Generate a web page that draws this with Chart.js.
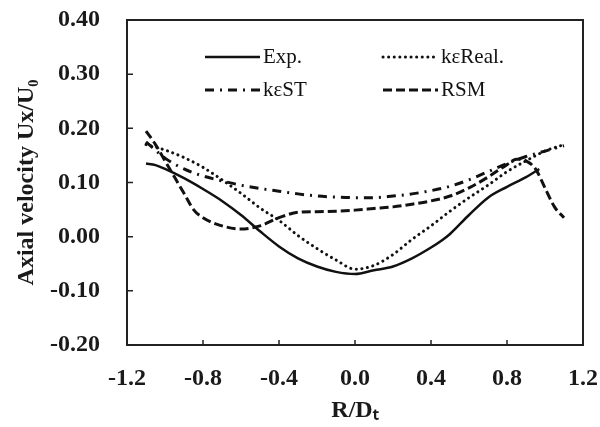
<!DOCTYPE html>
<html>
<head>
<meta charset="utf-8">
<script src="https://cdn.jsdelivr.net/npm/chart.js@4/dist/chart.umd.min.js"></script>
<style>
  html, body { margin: 0; padding: 0; background: #fff; }
  #wrap { width: 600px; height: 427px; }
</style>
</head>
<body>
<div id="wrap"><canvas id="chart"></canvas></div>
<script>
// Data
const expX = [-1.1, -1.05, -1.0, -0.9, -0.8, -0.7, -0.6, -0.5, -0.4, -0.3, -0.2, -0.1, 0.0, 0.1, 0.2, 0.3, 0.4, 0.46, 0.5, 0.6, 0.7, 0.8, 0.9, 0.97];
const expY = [0.135, 0.132, 0.125, 0.108, 0.088, 0.066, 0.040, 0.010, -0.018, -0.040, -0.055, -0.065, -0.069, -0.062, -0.055, -0.040, -0.020, -0.006, 0.005, 0.040, 0.072, 0.092, 0.110, 0.125];

const realX = [-1.1, -1.0, -0.9, -0.8, -0.7, -0.6, -0.5, -0.4, -0.3, -0.2, -0.1, 0.0, 0.1, 0.2, 0.3, 0.4, 0.5, 0.6, 0.7, 0.8, 0.9, 1.0, 1.1];
const realY = [0.170, 0.160, 0.146, 0.128, 0.105, 0.080, 0.053, 0.030, 0.002, -0.022, -0.043, -0.060, -0.053, -0.033, -0.005, 0.020, 0.047, 0.072, 0.095, 0.120, 0.140, 0.158, 0.170];

const stX = [-1.1, -1.0, -0.9, -0.8, -0.7, -0.6, -0.5, -0.4, -0.3, -0.2, -0.1, 0.0, 0.1, 0.2, 0.3, 0.4, 0.5, 0.6, 0.7, 0.8, 0.9, 1.0, 1.1];
const stY = [0.175, 0.145, 0.125, 0.112, 0.103, 0.095, 0.089, 0.084, 0.079, 0.075, 0.073, 0.072, 0.072, 0.075, 0.079, 0.085, 0.093, 0.105, 0.120, 0.135, 0.148, 0.158, 0.168];

const rsmX = [-1.1, -1.05, -1.0, -0.95, -0.9, -0.85, -0.8, -0.7, -0.6, -0.5, -0.4, -0.3, -0.2, -0.1, 0.0, 0.1, 0.2, 0.3, 0.4, 0.5, 0.6, 0.7, 0.8, 0.85, 0.9, 0.95, 1.0, 1.05, 1.1];
const rsmY = [0.195, 0.170, 0.140, 0.110, 0.080, 0.050, 0.035, 0.020, 0.014, 0.020, 0.035, 0.045, 0.046, 0.047, 0.049, 0.052, 0.055, 0.060, 0.066, 0.075, 0.090, 0.110, 0.133, 0.143, 0.140, 0.125, 0.090, 0.055, 0.035];

const xTicks = [-1.2, -0.8, -0.4, 0.0, 0.4, 0.8, 1.2];
const yTicks = [-0.20, -0.10, 0.00, 0.10, 0.20, 0.30, 0.40];

function pts(xs, ys) {
    return xs.map((x, i) => ({ x: x, y: ys[i] }));
}

// inward ticks, plot frame and the two-column legend
const framePlugin = {
    id: 'frame',
    afterDatasetsDraw(chart) {
        const ctx = chart.ctx;
        const a = chart.chartArea;
        const xs = chart.scales.x;
        const ys = chart.scales.y;
        ctx.save();
        ctx.strokeStyle = '#222';
        ctx.lineWidth = 2;
        ctx.setLineDash([]);
        ctx.strokeRect(a.left, a.top, a.right - a.left, a.bottom - a.top);
        ctx.lineWidth = 1.5;
        ctx.beginPath();
        yTicks.forEach(v => {
            const p = ys.getPixelForValue(v);
            ctx.moveTo(a.left, p);
            ctx.lineTo(a.left + 6, p);
        });
        xTicks.slice(1, -1).forEach(v => {
            const p = xs.getPixelForValue(v);
            ctx.moveTo(p, a.bottom);
            ctx.lineTo(p, a.bottom - 5);
        });
        ctx.stroke();

        // legend
        const slots = [
            { x: 205, y: 57 }, { x: 383, y: 57 },
            { x: 205, y: 90 }, { x: 383, y: 90 }
        ];
        ctx.font = '21px "Liberation Serif", serif';
        ctx.fillStyle = '#111';
        ctx.textBaseline = 'middle';
        chart.data.datasets.forEach((ds, i) => {
            const s = slots[i];
            ctx.strokeStyle = ds.borderColor;
            ctx.lineWidth = ds.borderWidth;
            ctx.lineCap = ds.borderCapStyle || 'butt';
            ctx.setLineDash(ds.borderDash || []);
            ctx.beginPath();
            ctx.moveTo(s.x, s.y);
            ctx.lineTo(s.x + 55, s.y);
            ctx.stroke();
            ctx.fillText(ds.label, s.x + 58, s.y);
        });
        ctx.restore();
    }
};

function createChart() {
    const ctx = document.getElementById('chart').getContext('2d');
    new Chart(ctx, {
        type: 'line',
        data: {
            datasets: [
                { label: 'Exp.', data: pts(expX, expY), borderColor: '#111', borderWidth: 2.5, borderDash: [] },
                { label: 'kεReal.', data: pts(realX, realY), borderColor: '#111', borderWidth: 3, borderDash: [0.1, 5.5], borderCapStyle: 'round' },
                { label: 'kεST', data: pts(stX, stY), borderColor: '#111', borderWidth: 3, borderDash: [9, 6, 2, 6] },
                { label: 'RSM', data: pts(rsmX, rsmY), borderColor: '#111', borderWidth: 3, borderDash: [9, 4] }
            ]
        },
        options: {
            responsive: true,
            maintainAspectRatio: false,
            animation: false,
            elements: {
                point: { radius: 0 },
                line: { cubicInterpolationMode: 'monotone', fill: false }
            },
            layout: { padding: { left: 12, right: 17, top: 20, bottom: 2 } },
            plugins: {
                legend: { display: false },
                tooltip: { enabled: false }
            },
            scales: {
                x: {
                    type: 'linear',
                    min: -1.2,
                    max: 1.2,
                    afterFit: s => { s.height = 80; s.paddingLeft = 0; s.paddingRight = 0; },
                    afterBuildTicks: s => { s.ticks = xTicks.map(v => ({ value: v })); },
                    grid: { display: false, drawTicks: false },
                    border: { display: false },
                    ticks: {
                        padding: 19,
                        color: '#1a1a1a',
                        font: { family: '"Liberation Serif", serif', size: 24, weight: 'bold' },
                        callback: v => v.toFixed(1)
                    },
                    title: {
                        display: true,
                        text: 'R/Dₜ',
                        color: '#1a1a1a',
                        padding: 0,
                        font: { family: '"Liberation Serif", serif', size: 24, weight: 'bold' }
                    }
                },
                y: {
                    min: -0.2,
                    max: 0.4,
                    afterFit: s => { s.width = 115; s.paddingTop = 0; s.paddingBottom = 0; },
                    afterBuildTicks: s => { s.ticks = yTicks.map(v => ({ value: v })); },
                    grid: { display: false, drawTicks: false },
                    border: { display: false },
                    ticks: {
                        padding: 27,
                        color: '#1a1a1a',
                        font: { family: '"Liberation Serif", serif', size: 24, weight: 'bold' },
                        callback: v => v.toFixed(2)
                    },
                    title: {
                        display: true,
                        text: 'Axial velocity Ux/U₀',
                        color: '#1a1a1a',
                        padding: 0,
                        font: { family: '"Liberation Serif", serif', size: 24, weight: 'bold' }
                    }
                }
            }
        },
        plugins: [framePlugin]
    });
}

document.addEventListener('DOMContentLoaded', () => {
    createChart();
});
</script>
</body>
</html>
